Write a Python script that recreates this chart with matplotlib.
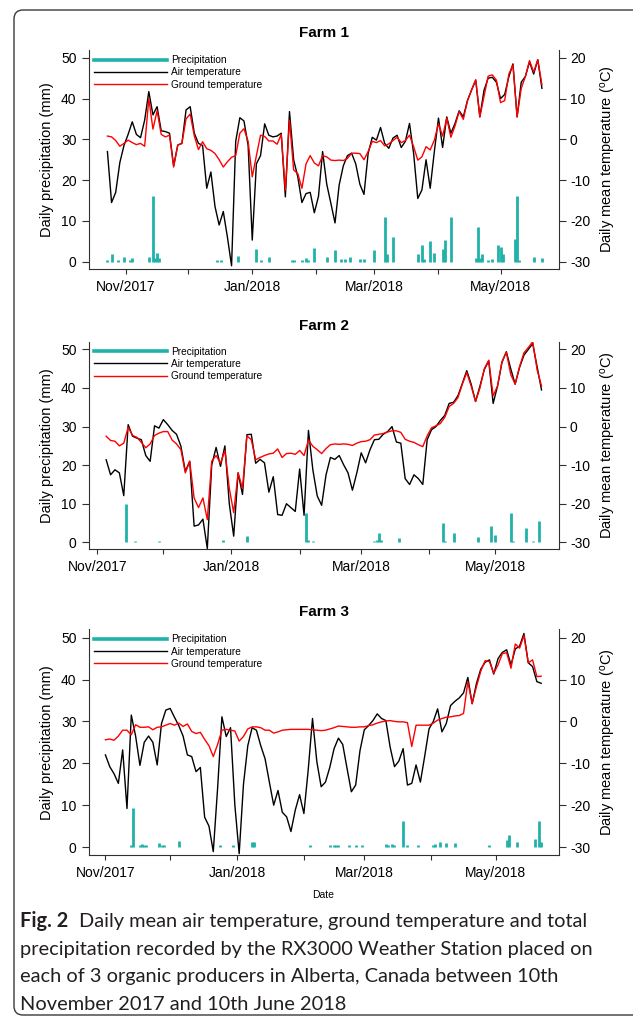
import numpy as np
import matplotlib
matplotlib.use('Agg')
import matplotlib.pyplot as plt
from matplotlib.lines import Line2D
from matplotlib.patches import FancyBboxPatch

plt.rcParams['font.family'] = ['Liberation Sans', 'DejaVu Sans']
plt.rcParams['axes.unicode_minus'] = False
plt.rcParams['mathtext.default'] = 'regular'

# x axis: days counted from 1 Nov 2017
base_date = np.datetime64('2017-11-01')
month_starts = np.array(['2017-11-01', '2017-12-01', '2018-01-01', '2018-02-01',
                         '2018-03-01', '2018-04-01', '2018-05-01'], dtype='datetime64[D]')
month_labels = ['Nov/2017', '', 'Jan/2018', '', 'Mar/2018', '', 'May/2018']

series_labels = ['Precipitation', 'Air temperature', 'Ground temperature']
farm_titles = ['Farm 1', 'Farm 2', 'Farm 3']

# ---- Farm 1 (temperatures every 2nd day, first day = -9) ----
f1_start = -9
f1_air = [-3.0, -15.5, -13.0, -5.7, -1.5, 1.2, 4.3, 1.2, 0.4, 4.7,
          11.7, 6.0, 8.0, 2.1, 1.9, 1.5, -6.5, -1.4, -1.0, 7.2,
          8.0, 1.5, -1.0, -1.5, -12.0, -8.0, -16.5, -21.0, -17.7, -24.0,
          -31.0, -0.5, 5.3, 4.5, -1.5, -24.7, -6.0, -4.0, 3.8, 1.0,
          0.6, 0.8, 1.5, -14.1, 6.8, -5.0, -9.2, -15.5, -13.3, -13.0,
          -18.0, -14.0, -3.0, -11.0, -15.7, -20.5, -11.2, -6.5, -4.0, -3.4,
          -6.0, -11.0, -13.5, -3.5, 0.5, -0.2, 2.9, -1.0, -2.2, 0.3,
          1.0, -2.0, -0.5, 3.9, -3.5, -14.5, -12.4, -5.0, -12.0, -3.0,
          5.2, -2.0, 5.5, 1.5, 3.9, 7.0, 5.5, 9.5, 12.1, 14.5,
          5.5, 12.0, 15.0, 15.2, 14.0, 10.0, 11.0, 15.3, 18.5, 5.5,
          14.0, 15.4, 19.0, 16.0, 19.5, 12.5]
f1_ground = [0.8, 0.6, -0.3, -1.7, -1.0, -0.2, -0.8, -1.3, -1.0, -1.7,
             10.0, 2.5, 7.0, 1.2, 0.6, 1.0, -6.8, -1.4, -1.0, 5.0,
             6.2, 0.8, -2.5, -0.6, -2.3, -2.7, -3.5, -5.0, -6.8, -5.5,
             -4.4, -4.0, 1.5, 2.6, -0.5, -9.2, -4.0, 1.0, 0.7, -0.4,
             -0.4, -1.2, 1.2, -12.5, 4.7, -7.5, -8.4, -12.0, -6.0, -4.0,
             -5.8, -6.5, -4.0, -4.3, -5.1, -5.2, -5.1, -5.2, -4.7, -3.4,
             -3.4, -3.5, -5.0, -3.0, -0.5, -0.8, -0.3, -1.6, -1.1, -0.3,
             0.5, -0.8, -0.3, 1.0, -1.8, -5.1, -4.3, -1.8, -2.6, -0.2,
             3.8, 0.8, 5.2, 0.5, 3.3, 6.8, 4.9, 9.4, 12.1, 14.6,
             5.5, 10.5, 15.5, 15.8, 14.5, 9.0, 9.5, 16.0, 18.2, 5.5,
             12.5, 15.4, 19.3, 16.5, 19.5, 13.4]
f1_rain_day = [-9, -7, -4, -1, 2, 3, 11, 13, 14, 15, 16, 44, 46, 54, 63, 65, 69,
               80, 81, 85, 87, 88, 91, 97, 101, 104, 106, 108, 113, 115, 120,
               125, 126, 129, 141, 143, 144, 147, 149, 153, 154, 157, 169, 170,
               171, 172, 175, 177, 180, 181, 182, 188, 189, 190, 197, 201]
f1_rain_mm = [0.3, 1.8, 0.4, 1.2, 0.4, 0.8, 1.2, 16.1, 0.8, 2.2, 0.8, 0.3, 0.3,
              1.4, 3.0, 0.4, 1.2, 0.3, 0.4, 0.4, 0.8, 0.4, 3.3, 1.2, 2.9, 0.6,
              0.6, 1.2, 0.7, 0.6, 2.9, 10.9, 1.9, 6.0, 1.9, 4.2, 0.6, 5.1, 2.2,
              3.2, 5.3, 10.9, 1.0, 8.4, 1.0, 1.9, 0.4, 0.6, 4.1, 3.7, 2.0, 5.5,
              16.1, 0.4, 1.1, 0.8]

# ---- Farm 2 (first day = 4) ----
f2_start = 4
f2_air = [-8.6, -12.5, -11.2, -12.0, -17.9, 0.5, -2.5, -3.0, -3.4, -7.5,
          -9.0, 0.2, -0.4, 1.8, 0.5, -1.0, -2.0, -5.1, -11.6, -9.0,
          -25.8, -25.5, -24.0, -31.6, -10.0, -5.4, -10.3, -5.0, -20.0, -28.4,
          -12.0, -17.6, -2.1, -2.0, -9.5, -8.5, -9.4, -17.0, -13.0, -22.8,
          -23.0, -20.0, -21.0, -22.0, -11.0, -23.0, -1.0, -11.2, -18.0, -20.4,
          -12.5, -8.0, -8.5, -7.5, -9.9, -12.0, -16.5, -12.0, -6.8, -9.4,
          -6.0, -3.4, -3.3, -2.0, -1.3, 0.0, -4.0, -4.3, -13.5, -15.0,
          -12.5, -13.5, -15.0, -3.4, -0.8, 0.0, 1.6, 2.9, 6.0, 6.3,
          8.0, 11.2, 14.5, 11.0, 6.5, 10.5, 14.8, 17.0, 6.0, 10.5,
          16.6, 19.4, 15.0, 11.0, 15.3, 18.5, 20.0, 21.5, 15.5, 9.5]
f2_ground = [-2.5, -3.6, -3.8, -5.0, -4.3, -0.2, -2.3, -2.8, -4.1, -5.5,
             -4.5, -2.3, -1.7, -1.3, -1.3, -3.5, -4.5, -6.0, -12.0, -9.0,
             -18.5, -21.0, -18.5, -24.1, -9.0, -7.5, -9.5, -6.2, -16.0, -22.3,
             -12.0, -16.0, -2.4, -3.4, -8.6, -8.0, -7.5, -7.1, -6.9, -5.8,
             -8.0, -7.0, -6.9, -7.2, -6.2, -7.5, -3.5, -5.1, -6.0, -7.0,
             -5.7, -4.7, -4.5, -4.6, -4.5, -4.6, -4.9, -4.3, -3.9, -3.8,
             -3.4, -2.2, -2.0, -1.8, -1.4, -1.1, -1.1, -1.5, -3.3, -3.8,
             -4.1, -4.7, -5.2, -2.4, -0.3, 0.2, 0.8, 2.4, 5.2, 6.0,
             7.5, 11.0, 14.0, 10.5, 6.5, 10.0, 15.0, 17.2, 8.0, 10.5,
             16.8, 19.3, 13.5, 11.0, 15.5, 19.1, 20.5, 22.0, 14.7, 10.5]
f2_rain_day = [13, 17, 28, 57, 68, 95, 96, 98, 126, 127, 128, 129, 137, 157,
               158, 162, 173, 179, 181, 188, 189, 195, 198, 201]
f2_rain_mm = [9.9, 0.4, 0.4, 0.6, 1.6, 7.5, 0.6, 0.4, 0.4, 0.6, 2.5, 0.6, 1.0,
              5.1, 0.4, 2.3, 1.3, 4.3, 1.9, 7.5, 0.4, 3.6, 0.4, 5.6]

# ---- Farm 3 (first day = 0) ----
f3_start = 0
f3_air = [-8.0, -10.8, -12.5, -14.8, -6.8, -20.8, 1.5, -3.5, -10.5, -5.0,
          -3.5, -5.0, -10.4, -0.5, 2.7, 3.1, 1.0, -1.0, -3.5, -8.0,
          -8.4, -12.0, -11.0, -22.9, -25.0, -31.1, -16.0, 1.1, -3.6, -1.5,
          -20.0, -31.6, -15.0, -5.8, -1.5, -2.1, -5.8, -8.9, -14.5, -20.0,
          -16.5, -21.7, -22.8, -26.3, -21.2, -17.5, -22.0, -11.6, 0.7, -9.6,
          -15.6, -14.5, -11.0, -6.5, -4.0, -5.5, -11.2, -16.8, -15.2, -7.0,
          -2.0, -1.0, 0.2, 1.8, 0.7, 0.2, -6.2, -10.8, -9.5, -6.5,
          -15.2, -14.8, -10.4, -14.5, -8.3, -1.8, 0.0, 3.0, -2.5, -0.5,
          3.8, 4.8, 5.6, 6.8, 10.5, 4.2, 9.1, 12.5, 14.1, 14.7,
          11.3, 15.0, 16.5, 17.1, 13.5, 17.3, 18.0, 21.0, 14.0, 13.1,
          9.5, 9.1]
f3_ground = [-4.4, -4.2, -4.5, -3.5, -2.1, -2.1, -3.2, -0.8, -1.4, -1.4,
             -1.3, -2.0, -1.4, -1.3, -0.9, -0.5, -0.9, -0.4, -1.2, -0.6,
             -2.4, -2.9, -2.6, -4.3, -5.8, -8.4, -5.5, -2.1, -1.9, -2.1,
             -2.3, -4.7, -3.6, -1.8, -1.3, -1.3, -1.5, -2.1, -2.1, -2.8,
             -2.5, -2.1, -2.0, -1.9, -1.9, -1.9, -1.9, -1.9, -2.0, -2.1,
             -2.2, -2.1, -1.8, -1.5, -1.1, -1.2, -1.3, -1.4, -1.4, -1.3,
             -1.3, -1.0, -0.8, -0.4, -0.1, 0.1, 0.2, 0.0, -0.1, -0.1,
             -0.3, -6.0, -0.9, -0.9, -0.9, -0.9, -0.4, 0.3, 0.7, 1.0,
             1.1, 1.3, 1.4, 1.9, 9.5, 4.3, 8.3, 12.0, 14.5, 14.3,
             11.5, 13.5, 16.2, 16.4, 12.7, 18.5, 17.5, 20.5, 14.0, 14.7,
             10.7, 10.8]
f3_rain_day = [12, 13, 16, 17, 18, 19, 25, 26, 27, 34, 53, 59, 68, 69, 95, 104,
               106, 107, 108, 113, 116, 119, 130, 131, 133, 134, 138, 140, 145,
               152, 153, 155, 158, 162, 178, 186, 187, 191, 199, 201, 202]
f3_rain_mm = [0.4, 9.2, 0.5, 0.6, 0.4, 0.4, 0.9, 0.5, 0.4, 1.5, 0.5, 0.4, 1.3,
              1.1, 0.5, 0.4, 0.5, 0.5, 0.5, 0.4, 0.4, 0.4, 0.6, 0.5, 0.6, 0.4,
              6.3, 0.4, 0.4, 0.4, 0.8, 1.3, 1.0, 1.0, 0.4, 1.7, 2.9, 1.3, 1.8,
              6.1, 1.3]

caption_lines = ['Daily mean air temperature, ground temperature and total',
                 'precipitation recorded by the RX3000 Weather Station placed on',
                 'each of 3 organic producers in Alberta, Canada between 10th',
                 'November 2017 and 10th June 2018']

TEAL = '#20b2aa'
AXC = '#303030'
W, H = 633, 1019

farms = [
    dict(start=f1_start, air=f1_air, ground=f1_ground, rday=f1_rain_day, rmm=f1_rain_mm,
         box=(88.8, 50.0, 559.1, 268.7), ylim=(-1.72, 51.9), xlim=(-18.0, 209.3), title_y=33),
    dict(start=f2_start, air=f2_air, ground=f2_ground, rday=f2_rain_day, rmm=f2_rain_mm,
         box=(88.8, 341.7, 559.1, 549.3), ylim=(-1.81, 52.0), xlim=(-3.9, 210.0), title_y=325.5),
    dict(start=f3_start, air=f3_air, ground=f3_ground, rday=f3_rain_day, rmm=f3_rain_mm,
         box=(88.8, 629.3, 559.1, 855.3), ylim=(-1.98, 52.0), xlim=(-7.7, 210.3), title_y=612),
]

fig = plt.figure(figsize=(W / 100, H / 100), dpi=100)

# background axes in pixel units for frame, titles and caption
bg = fig.add_axes([0, 0, 1, 1], zorder=-1)
bg.set_xlim(0, W)
bg.set_ylim(H, 0)
bg.axis('off')
bg.add_patch(FancyBboxPatch((14, 10), 660, 1005, boxstyle='round,pad=0,rounding_size=9',
                            fill=False, edgecolor='#3a3a3a', linewidth=1.0))

tick_pos = (month_starts - base_date).astype(int)

for i, f in enumerate(farms):
    x0, y0, x1, y1 = f['box']
    ax = fig.add_axes([x0 / W, 1 - y1 / H, (x1 - x0) / W, (y1 - y0) / H])
    ax.set_facecolor('none')
    ax2 = ax.twinx()

    ax.vlines(f['rday'], 0, f['rmm'], color=TEAL, linewidth=2.0, capstyle='butt')
    days = f['start'] + 2 * np.arange(len(f['air']))
    ax2.plot(days, f['air'], color='black', linewidth=1.0)
    ax2.plot(days, f['ground'], color='red', linewidth=1.0)

    ax.set_xlim(*f['xlim'])
    ax.set_ylim(*f['ylim'])
    ax2.set_ylim(f['ylim'][0] - 30, f['ylim'][1] - 30)
    ax.set_yticks(np.arange(0, 51, 10))
    ax2.set_yticks(np.arange(-30, 21, 10))
    ax.set_xticks(tick_pos)
    ax.set_xticklabels(month_labels)

    for a in (ax, ax2):
        a.spines['top'].set_visible(False)
        for s in a.spines.values():
            s.set_color(AXC)
            s.set_linewidth(0.8)
    ax.spines['right'].set_visible(False)
    ax2.spines['left'].set_visible(False)
    ax2.spines['bottom'].set_visible(False)

    ax.tick_params(axis='y', length=4.8, width=0.8, pad=4, labelsize=10, color=AXC)
    ax2.tick_params(axis='y', length=4.8, width=0.8, pad=3, labelsize=10, color=AXC)
    ax.tick_params(axis='x', length=3.8, width=0.8, pad=4, labelsize=10, color=AXC)

    ax.set_ylabel('Daily precipitation (mm)', fontsize=10.5)
    ax.yaxis.set_label_coords(-0.074, 0.5)
    ax2.set_ylabel('Daily mean temperature ($^{o}$C)', fontsize=10.5)
    ax2.yaxis.set_label_coords(1.084, 0.5)

    handles = [Line2D([], [], color=TEAL, linewidth=2.6),
               Line2D([], [], color='black', linewidth=1.0),
               Line2D([], [], color='red', linewidth=1.0)]
    ax2.legend(handles, series_labels, loc='upper left', bbox_to_anchor=(0, 1),
               frameon=False, fontsize=7.3, handlelength=7.2, handletextpad=0.4,
               labelspacing=0.22, borderaxespad=0.2, borderpad=0.3)

    bg.text((x0 + x1) / 2, f['title_y'], farm_titles[i], ha='center', va='center',
            fontsize=11, fontweight='bold')

bg.text(323, 895, 'Date', ha='center', va='center', fontsize=7.5)

cap_font = ['Lato', 'DejaVu Sans']
cap_base = [927, 954.5, 982, 1009.5]
bg.text(20, cap_base[0], 'Fig. 2', fontsize=14.4, fontweight='bold', family=cap_font,
        color='#231f20', va='baseline')
for k, line in enumerate(caption_lines):
    bg.text(79 if k == 0 else 20, cap_base[k], line, fontsize=14.4, family=cap_font,
            color='#231f20', va='baseline')

fig.savefig('out.png', dpi=100)
